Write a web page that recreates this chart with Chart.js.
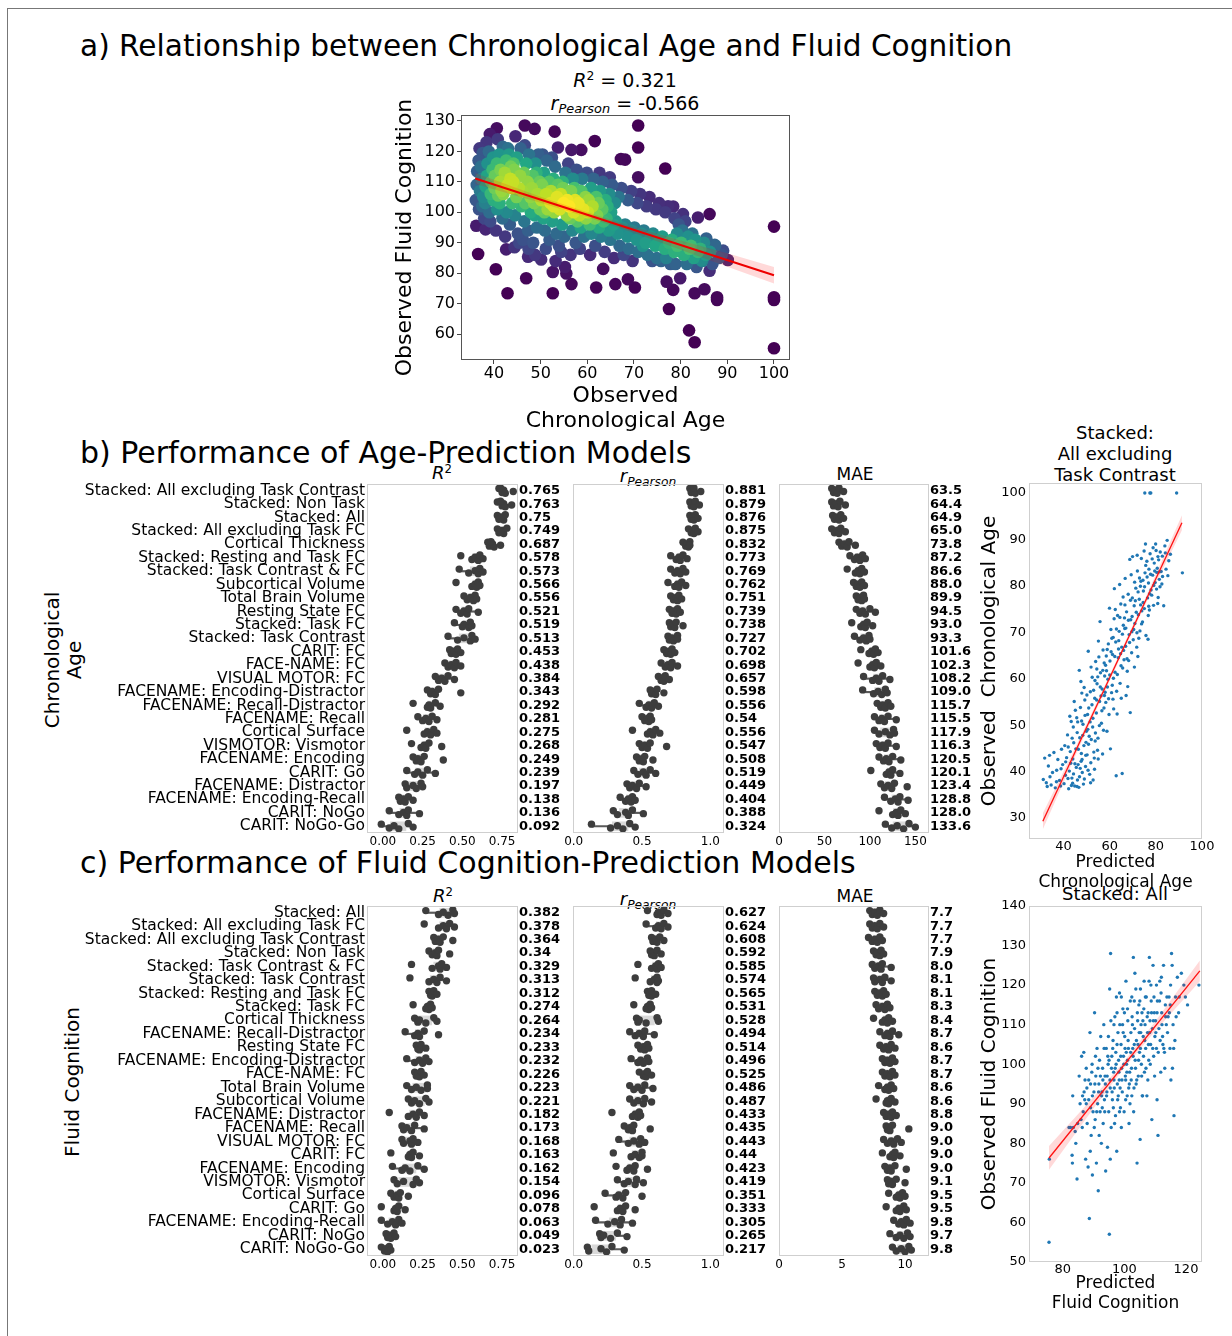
<!DOCTYPE html>
<html>
<head>
<meta charset="utf-8">
<script src="https://cdn.jsdelivr.net/npm/chart.js@4.4.0/dist/chart.umd.min.js"></script>
<style>
  body { margin: 0; background: #fff; font-family: 'DejaVu Sans', sans-serif; color: #000; }
  #fig { position: relative; width: 1232px; height: 1336px; overflow: hidden; background: #fff; }
  .border { position: absolute; left: 7px; top: 8px; width: 1400px; height: 1400px; border-left: 1px solid #777; border-top: 1px solid #777; }
  .t { position: absolute; white-space: nowrap; line-height: 1; }
  .sec { font-size: 30px; left: 80px; transform: translateY(-50%); }
  .ctr { transform: translate(-50%, -50%); text-align: center; }
  .rot { transform: translate(-50%, -50%) rotate(-90deg); text-align: center; }
  sup { font-size: 0.65em; vertical-align: 0.55em; line-height: 0; }
  sub { font-size: 0.68em; vertical-align: -0.3em; line-height: 0; }
  canvas { position: absolute; }
</style>
</head>
<body>
<div id="fig">
  <div class="border"></div>
  <div class="t sec" style="top:47px;font-size:29.6px">a) Relationship between Chronological Age and Fluid Cognition</div>
  <div class="t ctr" style="left:625px;top:80px;font-size:19px"><i>R</i><sup>2</sup> = 0.321</div>
  <div class="t ctr" style="left:625px;top:103px;font-size:19px"><i>r</i><sub><i>Pearson</i></sub> = -0.566</div>

  <div class="t sec" style="top:453px">b) Performance of Age-Prediction Models</div>
  <div class="t ctr" style="left:442px;top:473px;font-size:18px"><i>R</i><sup>2</sup></div>
  <div class="t ctr" style="left:648px;top:476px;font-size:18px"><i>r</i><sub><i>Pearson</i></sub></div>
  <div class="t ctr" style="left:855px;top:474px;font-size:17px">MAE</div>
  <div class="t ctr" style="left:1115px;top:453px;font-size:18px;line-height:21px">Stacked:<br>All excluding<br>Task Contrast</div>
  <div class="t rot" style="left:63px;top:660px;font-size:20px;line-height:22px">Chronological<br>Age</div>

  <div class="t sec" style="top:863px">c) Performance of Fluid Cognition-Prediction Models</div>
  <div class="t ctr" style="left:443px;top:896px;font-size:18px"><i>R</i><sup>2</sup></div>
  <div class="t ctr" style="left:648px;top:899px;font-size:18px"><i>r</i><sub><i>Pearson</i></sub></div>
  <div class="t ctr" style="left:855px;top:896px;font-size:17px">MAE</div>
  <div class="t ctr" style="left:1115px;top:894px;font-size:18px">Stacked: All</div>
  <div class="t rot" style="left:72px;top:1082px;font-size:20px">Fluid Cognition</div>
</div>

<script>
// ---- a) observed age vs observed fluid cognition ----
const ageCogPoints = [
  [70.9,128.5],[70.9,121.3],[61.6,123.4],[53.0,126.5],[56.6,120.5],[58.7,120.5],[53.7,121.3],[46.6,128.5],
  [48.7,127.4],[40.6,127.6],[39.1,125.7],[67.2,117.5],[68.1,117.3],[76.7,114.4],[64.8,111.5],[70.9,111.5],
  [36.6,86.3],[40.4,81.3],[42.9,73.4],[46.9,78.3],[52.6,73.4],[61.9,75.3],[66.0,76.4],[68.7,78.0],
  [70.2,75.3],[77.0,77.2],[78.4,74.5],[77.5,68.2],[81.8,61.2],[83.0,57.3],[83.0,73.4],[85.1,74.7],
  [87.8,72.1],[87.8,71.2],[100,95.3],[100,72.1],[100,71.2],[100,55.3],[86.2,99.4],[83.7,98.3],
  [80.5,99.4],[78.4,101.9],[85.5,91.4],[87.3,89.3],[89.1,87.4],[90.1,84.3],[84.4,84.3],[86.2,80.8],
  [79.9,78.3],[56.6,76.4],[55.5,79.9],[52.6,80.4],[63.4,81.4],[50.1,84.5],[47.3,85.4],[42.6,87.8],
  [44.4,88.5],[36.2,95.6],[38.2,94.4],
  [36.1,104],[36.3,109],[36.4,113.5],[36.7,117],[36.8,101],[37.0,107],[37.3,111],[37.2,115],[37.6,119.5],
  [37.7,105],[37.9,98],[36.9,121],[37.5,102],
  [38.1,103],[38.2,108.5],[38.5,112],[38.6,116],[38.9,120],[39.0,100],[39.3,106],[39.4,110],[39.7,114],
  [39.8,118],[38.4,123],[39.2,97],[39.9,104],
  [40.1,108],[40.2,112],[40.6,116],[40.7,101],[40.9,105.5],[41.1,119],[41.3,110],[41.4,114],[41.8,98],
  [41.9,121.5],[40.4,94],[41.2,103],[41.6,107],[40.8,124],
  [42.0,106],[42.3,113],[42.6,117],[42.7,100],[42.9,109],[43.0,121],[43.4,96],[43.5,111],[43.6,115],
  [43.9,103],[42.4,92],[43.2,119],[43.8,108],
  [44.1,110],[44.3,114],[44.5,99],[44.8,105],[44.9,118],[45.1,93],[45.3,108],[45.6,112],[45.7,121],
  [45.9,102],[44.6,125],[45.4,90],[44.2,116],
  [46.1,107],[46.4,113],[46.5,97],[46.7,103],[46.9,116],[47.2,110],[47.3,94],[47.5,119],[47.8,105],
  [47.9,100],[46.6,122],[47.4,88],[46.2,91],
  [48.1,108],[48.3,112],[48.6,103],[48.7,99],[48.9,116],[49.2,95],[49.3,106],[49.5,119],[49.8,110],
  [49.9,101],[48.4,90],[49.1,113],[48.8,86],
  [50.1,104],[50.3,109],[50.6,98],[50.7,113],[50.9,94],[51.2,106],[51.3,117],[51.5,101],[51.8,110],
  [51.9,91],[50.4,119],[51.1,88],[50.8,100],
  [52.1,103],[52.2,107],[52.5,97],[52.7,111],[52.9,100],[53.1,115],[53.4,93],[53.5,105],[53.7,109],
  [53.9,89],[52.4,118],[53.2,84],[52.8,102],
  [54.1,101],[54.3,106],[54.6,96],[54.7,110],[54.9,103],[55.1,92],[55.3,113],[55.6,99],[55.7,104],
  [55.9,116],[54.4,87],[55.2,82],[54.8,108],
  [56.1,102],[56.3,98],[56.5,107],[56.8,94],[56.9,111],[57.1,100],[57.4,104],[57.5,90],[57.7,114],
  [57.9,97],[56.4,86],[57.2,108],
  [58.1,103],[58.3,99],[58.6,95],[58.7,107],[58.9,111],[59.1,101],[59.3,92],[59.6,105],[59.7,98],
  [59.9,113],[58.4,88],
  [60.1,100],[60.3,104],[60.5,96],[60.8,108],[60.9,93],[61.1,102],[61.3,111],[61.6,98],[61.7,89],
  [61.9,105],[60.6,86],
  [62.1,99],[62.4,103],[62.5,95],[62.7,107],[62.9,92],[63.2,101],[63.3,110],[63.5,97],[63.7,87],
  [63.9,104],[62.6,113],
  [64.1,98],[64.3,102],[64.6,94],[64.7,106],[64.9,91],[65.1,100],[65.3,109],[65.6,96],[65.7,85],
  [65.9,103],
  [66.1,97],[66.5,93],[66.7,105],[66.9,89],[67.3,108],[67.5,95],[67.8,86],
  [68.1,96],[68.6,92],[68.7,104],[68.9,88],[69.4,107],[69.5,94],[69.7,84],
  [70.1,95],[70.6,91],[70.7,103],[70.9,87],[71.3,106],[71.6,93],[71.9,89],
  [72.1,94],[72.5,90],[72.7,102],[72.9,86],[73.3,105],[73.6,92],[73.9,84],
  [74.1,93],[74.6,89],[74.7,101],[74.9,85],[75.4,103],[75.5,91],[75.8,84],
  [76.1,92],[76.6,88],[76.7,100],[76.9,85],[77.3,102],[77.5,90],[77.8,83],
  [78.1,91],[78.6,87],[78.7,98],[78.9,83],[79.2,93],[79.3,89],[79.6,96],
  [80.1,90],[80.4,94],[80.7,86],[81.0,97],[81.3,83],[81.6,92],[81.9,88],
  [82.2,89],[82.5,93],[82.8,85],[83.1,91],[83.4,82],[83.7,87],
  [84.2,88],[84.6,84],[85.0,90],[85.4,86],
  [86.3,87],[86.8,83],[87.4,89],[88.2,85],[88.8,86]
];
const ageTicksA = [40, 50, 60, 70, 80, 90, 100];
const cogTicksA = [60, 70, 80, 90, 100, 110, 120, 130];
const regAx = [36, 100];
const regAy = [111.1, 79.3];
const bandAx = [36, 50, 60, 70, 80, 90, 100];
const bandAlo = [109.3, 103.1, 98.4, 93.2, 87.7, 82.1, 76.6];
const bandAhi = [112.9, 105.1, 100.0, 95.2, 90.7, 86.5, 82.0];

// ---- b) age prediction models ----
const ageModels = ['Stacked: All excluding Task Contrast','Stacked: Non Task','Stacked: All','Stacked: All excluding Task FC',
  'Cortical Thickness','Stacked: Resting and Task FC','Stacked: Task Contrast & FC','Subcortical Volume','Total Brain Volume',
  'Resting State FC','Stacked: Task FC','Stacked: Task Contrast','CARIT: FC','FACE-NAME: FC','VISUAL MOTOR: FC',
  'FACENAME: Encoding-Distractor','FACENAME: Recall-Distractor','FACENAME: Recall','Cortical Surface','VISMOTOR: Vismotor',
  'FACENAME: Encoding','CARIT: Go','FACENAME: Distractor','FACENAME: Encoding-Recall','CARIT: NoGo','CARIT: NoGo-Go'];
const ageR2Mean = [0.765,0.763,0.75,0.749,0.687,0.578,0.573,0.566,0.556,0.521,0.519,0.513,0.453,0.438,0.384,0.343,0.292,0.281,0.275,0.268,0.249,0.239,0.197,0.138,0.136,0.092];
const ageRMean = [0.881,0.879,0.876,0.875,0.832,0.773,0.769,0.762,0.751,0.739,0.738,0.727,0.702,0.698,0.657,0.598,0.556,0.54,0.556,0.547,0.508,0.519,0.449,0.404,0.388,0.324];
const ageMaeMean = [63.5,64.4,64.9,65.0,73.8,87.2,86.6,88.0,89.9,94.5,93.0,93.3,101.6,102.3,108.2,109.0,115.7,115.5,117.9,116.3,120.5,120.1,123.4,128.8,128.0,133.6];
const ageR2Folds = [
  [0.73,0.75,0.76,0.77,0.74,0.82],[0.72,0.75,0.76,0.77,0.74,0.81],[0.72,0.73,0.75,0.76,0.77,0.74],[0.72,0.73,0.75,0.76,0.78,0.74],
  [0.66,0.67,0.69,0.70,0.68,0.74],[0.49,0.56,0.58,0.60,0.61,0.63],[0.48,0.54,0.58,0.60,0.61,0.63],[0.46,0.56,0.58,0.59,0.60,0.61],
  [0.51,0.53,0.55,0.57,0.58,0.59],[0.46,0.49,0.51,0.53,0.54,0.60],[0.45,0.50,0.51,0.54,0.55,0.56],[0.41,0.47,0.51,0.55,0.56,0.58],
  [0.42,0.43,0.45,0.46,0.47,0.49],[0.39,0.41,0.43,0.45,0.46,0.49],[0.33,0.35,0.37,0.39,0.41,0.45],[0.28,0.30,0.31,0.33,0.35,0.49],
  [0.19,0.28,0.29,0.30,0.33,0.36],[0.22,0.25,0.27,0.29,0.31,0.34],[0.15,0.26,0.28,0.30,0.32,0.34],[0.18,0.24,0.26,0.27,0.29,0.37],
  [0.19,0.21,0.22,0.24,0.26,0.38],[0.15,0.20,0.22,0.25,0.28,0.33],[0.14,0.15,0.19,0.21,0.24,0.25],[0.10,0.11,0.13,0.14,0.16,0.19],
  [0.04,0.10,0.13,0.15,0.16,0.23],[-0.01,0.04,0.07,0.10,0.16,0.19]
];
const ageRFolds = [
  [0.85,0.86,0.88,0.89,0.88,0.93],[0.85,0.86,0.87,0.88,0.89,0.92],[0.85,0.86,0.87,0.88,0.89,0.91],[0.84,0.86,0.87,0.88,0.89,0.91],
  [0.80,0.82,0.83,0.84,0.85,0.85],[0.71,0.75,0.77,0.78,0.80,0.83],[0.71,0.74,0.76,0.78,0.80,0.82],[0.69,0.74,0.76,0.77,0.79,0.82],
  [0.71,0.73,0.75,0.76,0.77,0.79],[0.70,0.72,0.73,0.75,0.76,0.78],[0.70,0.71,0.73,0.74,0.75,0.80],[0.69,0.70,0.72,0.73,0.76,0.76],
  [0.66,0.68,0.70,0.71,0.72,0.74],[0.64,0.67,0.69,0.71,0.72,0.76],[0.62,0.64,0.65,0.66,0.67,0.70],[0.56,0.57,0.59,0.60,0.61,0.66],
  [0.48,0.53,0.55,0.57,0.59,0.62],[0.50,0.52,0.54,0.55,0.56,0.57],[0.43,0.54,0.56,0.58,0.60,0.63],[0.48,0.50,0.52,0.54,0.56,0.68],
  [0.46,0.48,0.50,0.51,0.52,0.58],[0.44,0.47,0.51,0.53,0.56,0.60],[0.39,0.41,0.43,0.46,0.48,0.53],[0.34,0.38,0.40,0.42,0.43,0.45],
  [0.29,0.32,0.38,0.40,0.43,0.51],[0.13,0.27,0.32,0.36,0.41,0.45]
];
const ageMaeFolds = [
  [58,60,62,64,66,71],[58,60,63,65,67,73],[59,61,64,66,68,71],[58,61,64,66,68,73],
  [66,69,72,75,77,84],[78,83,86,89,92,95],[75,84,87,89,91,94],[82,85,87,89,91,94],
  [85,87,89,91,93,94],[85,89,92,95,100,106],[80,90,93,95,97,103],[83,89,93,96,99,100],
  [90,99,102,104,106,109],[87,100,103,105,107,112],[93,103,107,110,114,122],[92,104,109,113,117,119],
  [108,112,114,117,120,123],[105,110,113,116,120,129],[105,110,117,122,126,127],[107,111,114,117,120,129],
  [110,115,118,121,125,134],[101,118,121,123,125,133],[112,116,120,124,127,141],[116,123,128,131,133,142],
  [110,125,129,131,134,139],[117,124,130,137,143,150]
];
const r2Ticks = [0, 0.25, 0.5, 0.75];
const rTicks = [0, 0.5, 1.0];
const ageMaeTicks = [0, 50, 100, 150];

// predicted vs observed age (Stacked: All excluding Task Contrast)
const agePredPoints = [
  [31.2,38.3],[31.8,42.9],[32.5,37.6],[33.4,41.2],[33.9,43.5],[34.6,37.1],[35.2,39.8],[35.8,44.1],[32.9,36.8],[34.1,38.9],
  [36.4,36.5],[37.0,40.3],[37.5,42.6],[38.2,38.1],[38.7,36.9],[39.1,44.8],[39.6,41.5],[40.2,37.4],[40.8,39.2],[41.3,43.0],
  [41.7,47.9],[36.9,37.8],[38.9,40.6],[40.5,45.6],[41.9,38.5],
  [42.2,36.3],[42.5,40.1],[42.9,44.3],[43.3,50.8],[43.6,38.6],[44.0,42.7],[44.4,46.2],[44.8,36.9],[45.1,53.2],[45.5,40.9],
  [45.9,48.4],[42.7,51.9],[43.9,37.5],[44.6,55.1],[45.3,44.9],[46.0,38.2],[43.1,41.8],[44.2,49.6],
  [46.3,41.5],[46.6,36.6],[47.0,47.3],[47.3,53.8],[47.7,43.9],[48.1,39.8],[48.4,50.2],[48.8,45.6],[49.2,55.4],[49.5,41.1],
  [49.9,48.7],[46.8,61.8],[47.5,59.4],[48.6,37.3],[49.3,52.1],[46.1,50.7],[48.0,42.6],[49.7,46.3],[47.9,56.9],
  [50.2,43.6],[50.5,49.1],[50.9,53.7],[51.3,39.4],[51.6,57.2],[52.0,46.9],[52.4,60.3],[52.7,51.5],[53.1,44.2],[53.5,55.8],
  [53.8,48.3],[50.7,65.9],[51.9,62.5],[52.8,38.2],[53.6,59.6],[51.1,47.6],[52.3,54.4],[53.9,63.7],[50.1,56.5],[53.3,42.9],
  [54.2,52.6],[54.5,58.9],[54.9,47.2],[55.3,64.7],[55.6,55.1],[56.0,61.3],[56.4,50.4],[56.7,57.8],[57.1,66.2],[57.5,53.7],
  [57.8,60.6],[54.7,44.6],[55.8,72.3],[56.9,43.8],[57.3,48.9],[55.1,68.1],[56.2,56.3],[57.6,63.4],[54.4,62.1],[58.0,57.1],
  [58.3,54.9],[58.6,61.7],[59.0,58.2],[59.4,67.5],[59.7,52.3],[60.1,63.8],[60.5,70.6],[60.8,57.0],[61.2,65.2],[61.6,60.1],
  [61.9,72.9],[58.8,48.7],[59.9,75.2],[60.3,44.9],[61.4,55.6],[62.0,79.4],[58.5,64.9],[60.9,68.7],[61.7,53.5],[59.2,59.9],
  [62.3,61.4],[62.6,67.9],[63.0,57.3],[63.4,73.6],[63.7,64.5],[64.1,70.2],[64.5,59.0],[64.8,76.1],[65.2,66.8],[65.6,62.3],
  [65.9,71.5],[62.8,39.1],[63.2,52.4],[64.3,80.3],[65.0,55.8],[65.4,39.6],[62.4,74.9],[63.9,68.2],[65.8,77.6],[64.7,65.4],
  [66.2,64.1],[66.5,70.8],[66.9,67.0],[67.3,74.4],[67.6,61.6],[68.0,78.2],[68.4,69.5],[68.7,85.7],[69.1,72.7],[69.5,65.6],
  [69.8,77.4],[66.7,81.6],[67.8,58.3],[68.9,52.7],[69.3,82.4],[66.4,73.1],[68.2,63.9],[69.6,70.1],[67.1,56.4],[69.9,86.3],
  [70.2,68.4],[70.6,75.7],[70.9,71.9],[71.3,79.5],[71.7,66.8],[72.0,83.2],[72.4,73.8],[72.8,77.1],[73.1,70.3],[73.5,81.0],
  [73.9,74.6],[70.7,62.5],[71.9,86.6],[72.6,68.7],[73.7,85.9],[71.1,76.8],[72.2,64.8],[73.3,79.9],
  [74.2,72.2],[74.6,78.9],[75.0,75.1],[75.3,82.8],[75.7,69.3],[76.1,85.3],[76.4,77.4],[76.8,80.6],[77.2,74.8],[77.5,86.9],
  [77.9,79.1],[75.5,89.0],[76.6,68.5],[74.9,87.5],[77.0,83.6],[75.2,100],[77.4,100],[77.8,100],[74.4,81.2],[76.9,75.6],
  [78.2,78.0],[78.6,82.3],[79.0,75.8],[79.3,84.9],[79.7,80.7],[80.1,87.6],[80.4,82.9],[80.8,76.2],[81.2,85.6],[81.5,81.4],
  [78.8,88.2],[79.9,89.0],[81.0,77.5],[80.6,83.8],[81.8,79.8],
  [82.3,83.1],[82.8,86.4],[83.4,75.7],[84.1,87.1],[84.9,89.8],[85.6,85.4],[86.3,86.8],[82.6,80.4],[83.9,88.6],[89.0,100],
  [91.5,82.8],[84.4,83.6],[85.2,82.2],
  [40.9,42.1],[42.0,45.3],[43.7,47.2],[44.9,41.7],[45.7,51.6],[46.4,44.8],[47.2,40.7],[47.8,50.9],[48.3,47.8],[48.9,58.1],
  [49.6,43.5],[50.4,52.3],[50.8,45.9],[51.5,50.7],[51.8,41.9],[52.6,49.6],[53.0,57.5],[53.7,46.6],[54.3,55.4],[54.8,60.4],
  [55.5,49.9],[55.9,58.2],[56.6,53.1],[57.0,61.8],[57.7,56.4],[58.2,62.9],[58.9,66.3],[59.5,55.7],[60.0,60.8],[60.6,65.8],
  [61.1,58.6],[61.5,68.9],[62.2,64.8],[62.9,70.7],[63.3,60.9],[63.8,66.4],[64.4,73.2],[64.9,62.8],[65.5,69.6],[66.0,66.1],
  [66.6,75.9],[67.0,70.9],[67.5,64.3],[68.1,72.6],[68.6,67.8],[69.0,76.9],[69.7,73.4],[70.4,70.6],[70.8,80.8],[71.5,74.3],
  [71.8,69.9],[72.3,78.7],[72.9,81.7],[73.4,75.9],[73.8,71.8],[74.5,76.4],[75.1,79.8],[75.6,84.4],[76.2,81.9],[76.7,73.6],
  [77.3,78.3],[77.7,82.5],[78.4,85.8],[79.1,80.1],[79.5,83.2],[80.3,79.3],[80.9,86.3],[81.4,83.0],[81.9,87.3],[82.9,82.0],
  [44.3,39.5],[46.9,38.9],[49.0,38.4],[50.6,40.3],[51.7,37.6],[45.8,36.8],[43.4,37.0],[47.6,42.2],[53.4,40.5],[55.0,42.7]
];
const ageTicksB = [40, 60, 80, 100];
const obsAgeTicksB = [30, 40, 50, 60, 70, 80, 90, 100];
const regBx = [31, 91.3];
const regBy = [29.3, 93.6];
const bandBx = [31, 45, 60, 75, 91.3];
const bandBlo = [27.6, 43.3, 59.6, 75.5, 92.0];
const bandBhi = [31.0, 45.1, 60.8, 76.9, 95.2];

// ---- c) fluid cognition prediction models ----
const cogModels = ['Stacked: All','Stacked: All excluding Task FC','Stacked: All excluding Task Contrast','Stacked: Non Task',
  'Stacked: Task Contrast & FC','Stacked: Task Contrast','Stacked: Resting and Task FC','Stacked: Task FC','Cortical Thickness',
  'FACENAME: Recall-Distractor','Resting State FC','FACENAME: Encoding-Distractor','FACE-NAME: FC','Total Brain Volume',
  'Subcortical Volume','FACENAME: Distractor','FACENAME: Recall','VISUAL MOTOR: FC','CARIT: FC','FACENAME: Encoding',
  'VISMOTOR: Vismotor','Cortical Surface','CARIT: Go','FACENAME: Encoding-Recall','CARIT: NoGo','CARIT: NoGo-Go'];
const cogR2Mean = [0.382,0.378,0.364,0.34,0.329,0.313,0.312,0.274,0.264,0.234,0.233,0.232,0.226,0.223,0.221,0.182,0.173,0.168,0.163,0.162,0.154,0.096,0.078,0.063,0.049,0.023];
const cogRMean = [0.627,0.624,0.608,0.592,0.585,0.574,0.565,0.531,0.528,0.494,0.514,0.496,0.525,0.486,0.487,0.433,0.435,0.443,0.44,0.423,0.419,0.351,0.333,0.305,0.265,0.217];
const cogMaeMean = [7.7,7.7,7.7,7.9,8.0,8.1,8.1,8.3,8.4,8.7,8.6,8.7,8.7,8.6,8.6,8.8,9.0,9.0,9.0,9.0,9.1,9.5,9.5,9.8,9.7,9.8];
const cogR2Folds = [
  [0.27,0.35,0.38,0.41,0.44,0.45],[0.26,0.35,0.38,0.40,0.42,0.45],[0.32,0.33,0.35,0.36,0.38,0.44],[0.29,0.31,0.33,0.34,0.35,0.42],
  [0.18,0.31,0.35,0.36,0.37,0.40],[0.17,0.29,0.32,0.34,0.36,0.40],[0.29,0.30,0.31,0.31,0.32,0.34],[0.19,0.27,0.28,0.29,0.30,0.31],
  [0.20,0.22,0.23,0.27,0.32,0.34],[0.14,0.20,0.22,0.23,0.26,0.35],[0.21,0.22,0.23,0.23,0.24,0.27],[0.15,0.20,0.23,0.25,0.27,0.29],
  [0.20,0.21,0.22,0.23,0.24,0.26],[0.15,0.18,0.21,0.24,0.28,0.28],[0.16,0.18,0.20,0.23,0.27,0.29],[0.04,0.16,0.19,0.21,0.23,0.26],
  [0.12,0.13,0.15,0.18,0.20,0.26],[0.12,0.13,0.17,0.18,0.19,0.22],[0.05,0.16,0.17,0.18,0.19,0.23],[0.06,0.12,0.14,0.17,0.22,0.26],
  [0.07,0.09,0.13,0.19,0.21,0.23],[0.05,0.07,0.09,0.10,0.11,0.16],[-0.01,0.07,0.08,0.09,0.10,0.14],[-0.01,0.03,0.06,0.08,0.10,0.12],
  [0.02,0.03,0.04,0.05,0.07,0.08],[-0.01,0.01,0.02,0.03,0.04,0.05]
];
const cogRFolds = [
  [0.54,0.61,0.62,0.64,0.66,0.69],[0.53,0.60,0.62,0.64,0.66,0.69],[0.57,0.58,0.60,0.61,0.63,0.66],[0.56,0.57,0.58,0.59,0.61,0.64],
  [0.47,0.57,0.60,0.61,0.62,0.64],[0.45,0.56,0.59,0.61,0.61,0.62],[0.54,0.55,0.56,0.57,0.57,0.60],[0.44,0.53,0.54,0.55,0.56,0.57],
  [0.46,0.47,0.48,0.53,0.61,0.62],[0.41,0.45,0.48,0.51,0.52,0.59],[0.47,0.49,0.51,0.52,0.54,0.55],[0.42,0.47,0.49,0.51,0.54,0.55],
  [0.48,0.51,0.52,0.53,0.54,0.57],[0.41,0.44,0.47,0.50,0.52,0.58],[0.41,0.44,0.47,0.51,0.52,0.57],[0.28,0.43,0.45,0.47,0.48,0.49],
  [0.37,0.40,0.41,0.43,0.44,0.56],[0.33,0.40,0.44,0.48,0.49,0.52],[0.29,0.42,0.45,0.48,0.50,0.50],[0.31,0.39,0.41,0.44,0.45,0.54],
  [0.32,0.37,0.40,0.45,0.46,0.51],[0.23,0.31,0.33,0.36,0.38,0.50],[0.15,0.32,0.34,0.36,0.38,0.45],[0.16,0.25,0.30,0.34,0.35,0.43],
  [0.19,0.20,0.22,0.27,0.32,0.39],[0.10,0.11,0.20,0.24,0.28,0.37]
];
const cogMaeFolds = [
  [7.2,7.4,7.6,7.8,8.0,8.3],[7.2,7.4,7.6,7.8,8.0,8.3],[7.1,7.4,7.6,7.8,8.0,8.2],[7.5,7.7,7.8,8.0,8.1,8.3],
  [7.4,7.6,7.9,8.1,8.2,8.9],[7.5,7.6,8.0,8.2,8.4,8.9],[7.6,7.8,8.0,8.2,8.3,8.5],[7.7,7.9,8.2,8.4,8.6,8.8],
  [7.5,8.2,8.4,8.6,8.7,9.0],[8.0,8.4,8.6,8.8,9.0,9.5],[8.0,8.3,8.5,8.7,8.9,9.2],[8.2,8.4,8.6,8.8,9.0,9.2],
  [8.2,8.4,8.6,8.8,9.0,9.2],[7.9,8.4,8.6,8.7,8.9,9.1],[7.7,8.5,8.6,8.7,8.9,9.2],[8.3,8.5,8.7,8.9,9.0,9.3],
  [8.5,8.6,8.7,8.8,9.0,10.3],[8.3,8.6,8.9,9.1,9.4,9.7],[8.2,8.8,9.0,9.1,9.2,9.6],[8.4,8.6,8.8,8.9,9.2,10.1],
  [8.6,8.7,8.9,9.0,9.3,10.0],[8.7,9.3,9.5,9.6,9.8,10.0],[8.5,9.3,9.5,9.6,9.9,10.1],[9.1,9.5,9.7,9.9,10.1,10.4],
  [8.8,9.3,9.6,9.9,10.2,10.4],[9.0,9.3,9.7,10.0,10.3,10.5]
];
const cogMaeTicks = [0, 5, 10];

// predicted vs observed fluid cognition (Stacked: All)
const cogPredPoints = [
  [75.5,55],[75.6,76],[83.2,92],[83.0,77],[83.1,75],[83.4,84],[82.5,84],[84.2,80],[84.6,71],[84.8,85],[85.3,97],[82.0,84],[84.0,83],
  [85.6,90],[86.1,102],[86.3,84],[86.6,88],[86.9,93],[87.2,96],[87.4,76],[87.6,99],[87.9,85],[88.2,74],[88.4,91],[88.6,61],
  [88.8,108],[89.0,95],[89.2,82],[89.4,98],[89.6,72],[89.8,88],[86.8,103],[87.8,94],[88.9,78],[85.9,86],[89.5,100],[87.1,91],
  [90.1,93],[90.3,113],[90.5,86],[90.7,97],[90.9,75],[91.1,104],[91.3,90],[91.5,68],[91.7,95],[91.9,101],[92.1,88],[92.3,107],
  [92.5,80],[92.7,93],[92.9,99],[93.1,85],[93.3,110],[93.5,91],[93.7,97],[93.9,73],[90.2,84],[91.4,99],[92.6,92],[93.4,104],
  [91.8,82],[92.8,89],[93.8,95],[90.6,102],
  [94.1,104],[94.3,93],[94.5,79],[94.7,100],[94.9,88],[95.1,57],[95.2,119],[95.3,96],[95.5,128],[95.6,111],[95.7,84],[95.9,102],
  [96.1,91],[96.3,106],[96.5,98],[96.7,94],[96.9,112],[97.1,87],[97.3,100],[97.5,78],[97.7,95],[97.9,108],[94.4,97],[95.4,76],
  [96.4,89],[97.4,117],[94.8,107],[96.0,93],[97.2,103],[98.0,92],[95.8,99],[96.8,85],
  [98.1,101],[98.3,96],[98.5,110],[98.7,89],[98.9,105],[99.1,99],[99.3,93],[99.5,114],[99.7,102],[99.9,88],[100.1,107],[100.3,97],
  [100.5,121],[100.7,100],[100.9,92],[101.1,111],[101.3,104],[101.5,85],[101.7,98],[101.9,116],[98.6,94],[99.6,108],[100.6,103],
  [101.6,95],[99.0,84],[100.0,113],[101.0,101],[101.8,90],[98.4,118],[100.4,96],
  [102.1,108],[102.3,99],[102.5,112],[102.7,104],[102.9,127],[103.1,94],[103.3,109],[103.5,101],[103.7,119],[103.9,106],[104.1,75],
  [104.3,111],[104.5,97],[104.7,115],[104.9,103],[105.1,81],[105.3,108],[105.5,100],[105.7,113],[105.9,92],[102.4,117],[103.4,123],
  [104.4,105],[105.4,110],[102.8,102],[104.0,96],[105.0,116],[103.0,88],
  [106.1,107],[106.3,114],[106.5,98],[106.7,110],[106.9,104],[107.1,117],[107.3,92],[107.5,108],[107.7,113],[107.9,101],[108.1,127],
  [108.3,111],[108.5,105],[108.7,116],[108.9,86],[109.1,109],[109.3,125],[109.5,102],[109.7,113],[109.9,107],[106.4,121],[107.6,96],
  [108.6,120],[109.6,117],
  [110.1,111],[110.4,104],[110.7,116],[110.9,82],[111.2,109],[111.5,121],[111.8,98],[112.1,113],[112.4,107],[112.7,125],[113.0,103],
  [113.3,115],[113.6,110],[110.6,91],[111.9,118],[113.1,99],[112.5,105],
  [114.2,112],[114.5,117],[114.8,104],[115.1,96],[115.3,128],[115.5,125],[115.8,110],[116.1,87],[116.4,106],[116.8,112],[117.2,122],
  [117.8,117],[118.5,123],[119.3,120],[119.8,117],[120.5,115],[124.2,120],[114.9,115],[116.0,104],[115.6,99],
  [95.0,101],[95.4,94],[96.2,104],[96.6,96],[97.0,99],[97.6,105],[98.2,98],[98.8,102],[99.2,96],[99.4,110],
  [99.8,100],[100.2,104],[100.8,98],[101.2,106],[101.4,94],[102.0,103],[102.2,96],[102.6,110],[103.2,105],[103.6,99],
  [104.2,113],[104.6,101],[104.8,108],[105.2,104],[105.6,97],[106.0,111],[106.2,102],[106.6,106],[107.0,99],[107.4,112],
  [107.8,105],[108.2,108],[108.4,100],[108.8,113],[109.2,104],[109.4,111],[109.8,97],[110.2,108],[110.6,113],[111.0,103],
  [111.4,116],[111.6,106],[112.2,110],[112.8,104],[113.4,112],[114.0,108],[114.6,113],[93.0,96],[93.6,88],[94.2,92],
  [94.6,102],[92.2,97],[91.6,93],[91.0,88],[90.4,95],[89.6,92],[89.0,89],[88.4,96],[87.6,90],[86.4,92],
  [97.8,91],[98.4,88],[100.4,91],[102.4,92],[103.8,95],[105.8,92],[96.6,110],[97.6,113],[99.0,117],[101.0,114],
  [103.2,116],[105.2,119],[106.8,117],[108.0,121],[110.4,120],[112.0,122],[113.8,117],[115.0,120],[116.6,117],[117.6,113]
];
const cogTicksC = [80, 100, 120];
const obsCogTicksC = [50, 60, 70, 80, 90, 100, 110, 120, 130, 140];
const regCx = [75.5, 124.5];
const regCy = [76.3, 123.6];
const bandCx = [75.5, 90, 100, 110, 124.5];
const bandClo = [73.3, 88.9, 99.2, 108.4, 121.0];
const bandChi = [79.3, 91.7, 100.8, 110.8, 126.2];

// styling constants
const viridis = ['#440154','#482475','#414487','#355f8d','#2a788e','#21918c','#22a884','#44bf70','#7ad151','#bddf26','#fde725'];
const stripJitter = [-0.16, 0.13, -0.04, 0.19, -0.21, 0.06];

Chart.defaults.font.family = "'DejaVu Sans', sans-serif";
Chart.defaults.color = '#000';

var framePlugin = {
  id: 'frame',
  afterDatasetsDraw: function(chart, args, opts) {
    var a = chart.chartArea, ctx = chart.ctx;
    ctx.save();
    ctx.strokeStyle = opts.color || '#ccc';
    ctx.lineWidth = 1;
    ctx.strokeRect(a.left + 0.5, a.top + 0.5, a.right - a.left - 1, a.bottom - a.top - 1);
    ctx.restore();
  }
};

function addCanvas(left, top, w, h) {
  var c = document.createElement('canvas');
  c.width = w; c.height = h;
  c.style.left = left + 'px'; c.style.top = top + 'px';
  c.style.width = w + 'px'; c.style.height = h + 'px';
  document.getElementById('fig').appendChild(c);
  return c;
}

function setTicks(vals) {
  return function(scale) { scale.ticks = vals.map(function(v) { return { value: v }; }); };
}

function pairs(xs, ys) {
  return xs.map(function(x, i) { return { x: x, y: ys[i] }; });
}

function hexRgb(h) {
  return [parseInt(h.substr(1, 2), 16), parseInt(h.substr(3, 2), 16), parseInt(h.substr(5, 2), 16)];
}

function viridisAt(t) {
  t = Math.max(0, Math.min(1, t)) * (viridis.length - 1);
  var i = Math.min(Math.floor(t), viridis.length - 2), f = t - i;
  var a = hexRgb(viridis[i]), b = hexRgb(viridis[i + 1]);
  return 'rgb(' + a.map(function(v, k) { return Math.round(v + (b[k] - v) * f); }).join(',') + ')';
}

// gaussian density per point, sorted so dense points are drawn last
function densitySorted(pts, bx, by) {
  var dens = pts.map(function(p) {
    var s = 0;
    pts.forEach(function(q) {
      var dx = (p[0] - q[0]) / bx, dy = (p[1] - q[1]) / by;
      s += Math.exp(-0.5 * (dx * dx + dy * dy));
    });
    return s;
  });
  var lo = Math.min.apply(null, dens), hi = Math.max.apply(null, dens);
  return pts.map(function(p, i) {
    var t = Math.pow((dens[i] - lo) / (hi - lo), 1.9);
    return { x: p[0], y: p[1], d: dens[i], c: viridisAt(t) };
  }).sort(function(a, b) { return a.d - b.d; });
}

function quantile(s, q) {
  var pos = (s.length - 1) * q, lo = Math.floor(pos), hi = Math.ceil(pos);
  return s[lo] + (s[hi] - s[lo]) * (pos - lo);
}

function boxStats(vals) {
  var s = vals.slice().sort(function(a, b) { return a - b; });
  var q1 = quantile(s, 0.25), q3 = quantile(s, 0.75), iqr = q3 - q1;
  var inside = s.filter(function(v) { return v >= q1 - 1.5 * iqr && v <= q3 + 1.5 * iqr; });
  return { q1: q1, q3: q3, lo: inside[0], hi: inside[inside.length - 1] };
}

var noGrid = { display: false, drawTicks: false };

function stripChart(canvas, labels, folds, means, meanFmt, xMin, xMax, ticks, tickDigits, namesWidth, padLeft) {
  var dots = [], boxes = [], whiskers = [];
  folds.forEach(function(vals, i) {
    var s = boxStats(vals);
    boxes.push([s.q1, s.q3]);
    whiskers.push([s.lo, s.hi]);
    vals.forEach(function(v, k) { dots.push({ x: v, y: i + stripJitter[k % stripJitter.length] }); });
  });
  return new Chart(canvas, {
    type: 'bar',
    data: {
      labels: labels,
      datasets: [
        { type: 'scatter', data: dots, yAxisID: 'yj', pointRadius: 3.7, backgroundColor: '#3d3d3d', borderWidth: 0, order: 0 },
        { data: boxes, yAxisID: 'y', grouped: false, barThickness: 9, backgroundColor: '#d9d9d9', borderWidth: 0, order: 1 },
        { data: whiskers, yAxisID: 'y', grouped: false, barThickness: 1.5, backgroundColor: '#5a5a5a', borderWidth: 0, order: 2 }
      ]
    },
    options: {
      indexAxis: 'y',
      responsive: false,
      animation: false,
      events: [],
      layout: { padding: { top: 14, left: padLeft, right: 0, bottom: 0 } },
      plugins: { legend: { display: false }, tooltip: { enabled: false }, frame: { color: '#cfcfcf' } },
      scales: {
        x: {
          type: 'linear', min: xMin, max: xMax,
          afterBuildTicks: setTicks(ticks),
          grid: noGrid, border: { display: false },
          ticks: { padding: 2, font: { size: 12 }, color: '#000',
            callback: function(v) { return Number(v).toFixed(tickDigits); } },
          afterFit: function(s) { s.height = 22; }
        },
        y: {
          type: 'category', offset: true,
          grid: noGrid, border: { display: false },
          ticks: { display: namesWidth > 0, autoSkip: false, padding: 2, font: { size: 15.5 }, color: '#000' },
          afterFit: function(s) { s.width = namesWidth; }
        },
        yj: {
          type: 'linear', display: false, reverse: true, offset: false, min: -0.5, max: labels.length - 0.5
        },
        y2: {
          type: 'category', position: 'right', offset: true,
          labels: means.map(meanFmt),
          grid: noGrid, border: { display: false },
          ticks: { autoSkip: false, padding: 1, font: { size: 13, weight: 'bold' }, color: '#000' },
          afterFit: function(s) { s.width = 45; }
        }
      }
    },
    plugins: [framePlugin]
  });
}

function predChart(canvas, pts, reg, band, xr, yr, xTicks, yTicks, xTitle, yTitle, xHeight, padTop) {
  return new Chart(canvas, {
    type: 'scatter',
    data: {
      datasets: [
        { data: pts.map(function(p) { return { x: p[0], y: p[1] }; }), pointRadius: 1.7, backgroundColor: '#1f77b4', borderWidth: 0, order: 3 },
        { type: 'line', data: pairs(band[0], band[2]), borderWidth: 0, pointRadius: 0, fill: false, order: 2 },
        { type: 'line', data: pairs(band[0], band[1]), borderWidth: 0, pointRadius: 0, fill: '-1', backgroundColor: 'rgba(255,0,0,0.15)', order: 2 },
        { type: 'line', data: pairs(reg[0], reg[1]), borderColor: '#ff1010', borderWidth: 1.3, pointRadius: 0, fill: false, order: 1 }
      ]
    },
    options: {
      responsive: false,
      animation: false,
      events: [],
      layout: { padding: { top: padTop, right: 14, left: 0, bottom: 0 } },
      plugins: { legend: { display: false }, tooltip: { enabled: false }, frame: { color: '#cfcfcf' } },
      scales: {
        x: {
          type: 'linear', min: xr[0], max: xr[1],
          afterBuildTicks: setTicks(xTicks),
          grid: noGrid, border: { display: false },
          ticks: { padding: 0, font: { size: 13 }, color: '#000' },
          title: { display: true, text: xTitle, font: { size: 17, lineHeight: 1.15 }, color: '#000', padding: { top: 0, bottom: 0 } },
          afterFit: function(s) { s.height = xHeight; }
        },
        y: {
          type: 'linear', min: yr[0], max: yr[1],
          afterBuildTicks: setTicks(yTicks),
          grid: noGrid, border: { display: false },
          ticks: { padding: 3, font: { size: 13 }, color: '#000' },
          title: { display: true, text: yTitle, font: { size: 20 }, color: '#000', padding: 0 },
          afterFit: function(s) { s.width = 51; }
        }
      }
    },
    plugins: [framePlugin]
  });
}

// panel a
var aSorted = densitySorted(ageCogPoints, 4.0, 3.6);
new Chart(addCanvas(392, 98, 408, 345), {
  type: 'scatter',
  data: {
    datasets: [
      { data: aSorted.map(function(p) { return { x: p.x, y: p.y }; }), pointRadius: 6.3,
        backgroundColor: aSorted.map(function(p) { return p.c; }), borderWidth: 0, order: 3 },
      { type: 'line', data: pairs(bandAx, bandAhi), borderWidth: 0, pointRadius: 0, fill: false, order: 2 },
      { type: 'line', data: pairs(bandAx, bandAlo), borderWidth: 0, pointRadius: 0, fill: '-1', backgroundColor: 'rgba(255,0,0,0.15)', order: 2 },
      { type: 'line', data: pairs(regAx, regAy), borderColor: '#ee0000', borderWidth: 2, pointRadius: 0, fill: false, order: 1 }
    ]
  },
  options: {
    responsive: false,
    animation: false,
    events: [],
    layout: { padding: { top: 17, right: 10, left: 0, bottom: 0 } },
    plugins: { legend: { display: false }, tooltip: { enabled: false }, frame: { color: '#555' } },
    scales: {
      x: {
        type: 'linear', min: 32.93, max: 103.43,
        afterBuildTicks: setTicks(ageTicksA),
        grid: { drawOnChartArea: false, tickLength: 4, color: '#444' }, border: { display: false },
        ticks: { padding: 0, font: { size: 16 }, color: '#000' },
        title: { display: true, text: ['Observed', 'Chronological Age'], font: { size: 22, lineHeight: 1.1 }, color: '#000', padding: { top: 0, bottom: 10 } },
        afterFit: function(s) { s.height = 83; }
      },
      y: {
        type: 'linear', min: 51.46, max: 131.97,
        afterBuildTicks: setTicks(cogTicksA),
        grid: { drawOnChartArea: false, tickLength: 4, color: '#444' }, border: { display: false },
        ticks: { padding: 2, font: { size: 16 }, color: '#000' },
        title: { display: true, text: 'Observed Fluid Cognition', font: { size: 22 }, color: '#000', padding: 0 },
        afterFit: function(s) { s.width = 69; }
      }
    }
  },
  plugins: [framePlugin]
});

function fmtPlain(v) { return String(v); }
function fmtOne(v) { return v.toFixed(1); }

// panel b
stripChart(addCanvas(80, 470, 483, 385), ageModels, ageR2Folds, ageR2Mean, fmtPlain, -0.1, 0.85, r2Ticks, 2, 287, 0);
stripChart(addCanvas(560, 470, 209, 385), ageModels, ageRFolds, ageRMean, fmtPlain, -0.005, 1.1, rTicks, 1, 0, 13);
stripChart(addCanvas(766, 470, 208, 385), ageModels, ageMaeFolds, ageMaeMean, fmtOne, 0, 165, ageMaeTicks, 0, 0, 13);
predChart(addCanvas(978, 470, 238, 422), agePredPoints, [regBx, regBy], [bandBx, bandBlo, bandBhi],
  [25, 100], [25.48, 102.15], ageTicksB, obsAgeTicksB, ['Predicted', 'Chronological Age'], 'Observed  Chronological Age', 53, 13);

// panel c
stripChart(addCanvas(80, 892, 483, 386), cogModels, cogR2Folds, cogR2Mean, fmtPlain, -0.1, 0.85, r2Ticks, 2, 287, 0);
stripChart(addCanvas(560, 892, 209, 386), cogModels, cogRFolds, cogRMean, fmtPlain, -0.005, 1.1, rTicks, 1, 0, 13);
stripChart(addCanvas(766, 892, 208, 386), cogModels, cogMaeFolds, cogMaeMean, fmtOne, 0, 11.9, cogMaeTicks, 0, 0, 13);
predChart(addCanvas(978, 892, 238, 421), cogPredPoints, [regCx, regCy], [bandCx, bandClo, bandChi],
  [69, 125.2], [50, 140], cogTicksC, obsCogTicksC, ['Predicted', 'Fluid Cognition'], 'Observed Fluid Cognition', 51, 14);
</script>
</body>
</html>
